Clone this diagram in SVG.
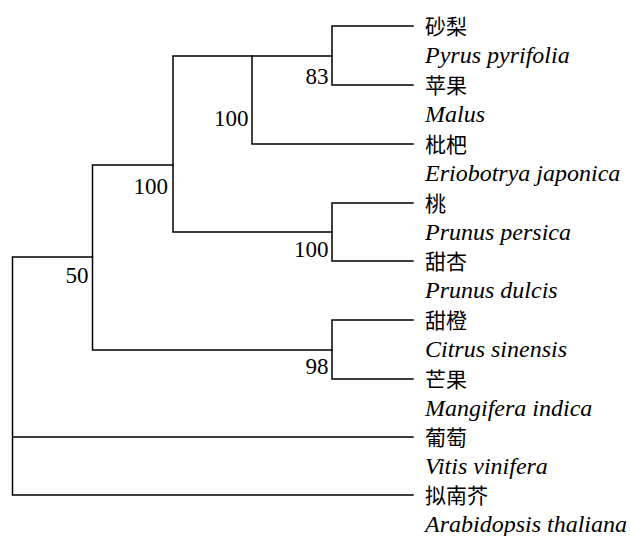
<svg xmlns="http://www.w3.org/2000/svg" width="630" height="536" viewBox="0 0 630 536">
<style>
.e{stroke:#000;stroke-width:1.5;fill:none;stroke-linecap:square}
.bs{font-family:"Liberation Serif",serif;font-size:23px;fill:#000;text-anchor:end}
.zh{font-family:"Liberation Serif","Noto Sans CJK SC",serif;font-size:21px;fill:#000}
.la{font-family:"Liberation Serif",serif;font-style:italic;font-size:24px;fill:#000}
</style>
<rect width="630" height="536" fill="#fff"/>
<g id="connectors">
<path class="e" d="M12.5,257V495M12.5,257H92.5M12.5,437H413M12.5,495H413"/>
<path class="e" d="M92.5,165V350M92.5,165H173M92.5,350H332"/>
<path class="e" d="M173,56V232M173,56H252M173,232H332"/>
<path class="e" d="M252,56V144M252,56H332M252,144H413"/>
<path class="e" d="M332,26V85M332,26H413M332,85H413"/>
<path class="e" d="M332,203V261M332,203H413M332,261H413"/>
<path class="e" d="M332,320V379M332,320H413M332,379H413"/>
</g>
<g id="bootstrap">
<text class="bs" x="328.5" y="84">83</text>
<text class="bs" x="248.5" y="126">100</text>
<text class="bs" x="168" y="194">100</text>
<text class="bs" x="88.5" y="283">50</text>
<text class="bs" x="328.5" y="257">100</text>
<text class="bs" x="328.5" y="374">98</text>
</g>
<g id="leaf-pyrus"><text class="zh" x="425" y="34">砂梨</text><text class="la" x="425" y="63">Pyrus pyrifolia</text></g>
<g id="leaf-malus"><text class="zh" x="425" y="93">苹果</text><text class="la" x="425" y="122">Malus</text></g>
<g id="leaf-eriobotrya"><text class="zh" x="425" y="152">枇杷</text><text class="la" x="425" y="181">Eriobotrya japonica</text></g>
<g id="leaf-persica"><text class="zh" x="425" y="211">桃</text><text class="la" x="425" y="240">Prunus persica</text></g>
<g id="leaf-dulcis"><text class="zh" x="425" y="269">甜杏</text><text class="la" x="425" y="298">Prunus dulcis</text></g>
<g id="leaf-citrus"><text class="zh" x="425" y="328">甜橙</text><text class="la" x="425" y="357">Citrus sinensis</text></g>
<g id="leaf-mangifera"><text class="zh" x="425" y="387">芒果</text><text class="la" x="425" y="416">Mangifera indica</text></g>
<g id="leaf-vitis"><text class="zh" x="425" y="445">葡萄</text><text class="la" x="425" y="474">Vitis vinifera</text></g>
<g id="leaf-arabidopsis"><text class="zh" x="425" y="503">拟南芥</text><text class="la" x="425" y="532">Arabidopsis thaliana</text></g>
</svg>
